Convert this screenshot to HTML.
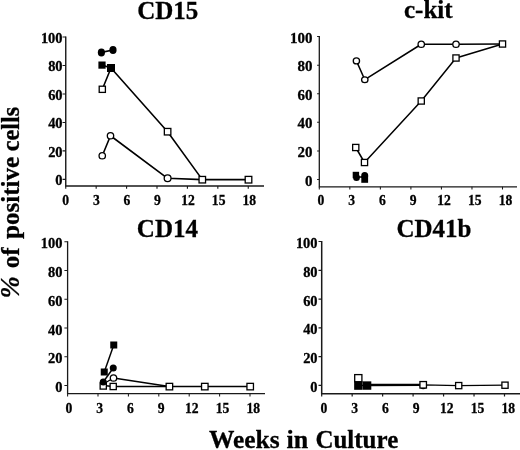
<!DOCTYPE html>
<html><head><meta charset="utf-8"><title>chart</title>
<style>
html,body{margin:0;padding:0;background:#fff;}
body{width:520px;height:450px;overflow:hidden;}
svg{display:block;will-change:transform;opacity:0.999;}
text{font-family:"Liberation Serif",serif;font-weight:bold;fill:#000;stroke:#000;stroke-width:0.3px;}
.t{font-size:25px;}
.k{font-size:15px;stroke-width:0.25px;}
</style></head><body>
<svg width="520" height="450" viewBox="0 0 520 450">
<rect width="520" height="450" fill="#fff"/>
<text class="t" text-anchor="middle" x="167.7" y="18.5">CD15</text>
<text class="t" text-anchor="middle" x="428.3" y="18">c-kit</text>
<text class="t" text-anchor="middle" x="167.4" y="236.7">CD14</text>
<text class="t" text-anchor="middle" x="434" y="236.7">CD41b</text>
<text class="t" transform="translate(209.0 448.3) scale(1.017 0.975)">Weeks</text>
<text class="t" transform="translate(286.5 448.3) scale(1.04 0.975)">in</text>
<text class="t" transform="translate(315.4 448.3) scale(1.0 0.975)">Culture</text>
<g class="t" style="stroke-width:0.1px;font-size:24.8px">
<text transform="translate(18.6 268.3) rotate(-90) scale(1.012 1)">of</text>
<text transform="translate(18.6 239.0) rotate(-90) scale(1.012 1)">positive</text>
<text transform="translate(18.6 151.2) rotate(-90) scale(0.98 1)">cells</text>
</g>
<text class="t" style="font-style:italic;stroke-width:0.2px;font-size:26.8px" transform="translate(18.8 298.4) rotate(-90)">%</text>
<!-- panel TL -->
<g stroke="#1a1a1a" stroke-width="1.4" fill="none">
<path d="M65.75 36.5V186.0H264"/>
<path d="M62.55 179.40H65.75M62.55 150.92H65.75M62.55 122.44H65.75M62.55 93.96H65.75M62.55 65.48H65.75M62.55 37.00H65.75M65.75 186.0V188.80M96.17 186.0V188.80M126.58 186.0V188.80M157.00 186.0V188.80M187.42 186.0V188.80M217.83 186.0V188.80M248.25 186.0V188.80" stroke-width="1.12"/>
</g>
<g class="k" text-anchor="end" style="font-size:15px">
<text transform="translate(62.60 185.00) scale(0.965 0.95)">0</text>
<text transform="translate(62.60 156.52) scale(0.965 0.95)">20</text>
<text transform="translate(62.60 128.04) scale(0.965 0.95)">40</text>
<text transform="translate(62.60 99.56) scale(0.965 0.95)">60</text>
<text transform="translate(62.60 71.08) scale(0.965 0.95)">80</text>
<text transform="translate(62.60 42.60) scale(0.965 0.95)">100</text>
</g>
<g class="k" text-anchor="middle" style="font-size:15px">
<text transform="translate(65.75 204.50) scale(0.91 0.95)">0</text>
<text transform="translate(96.33 204.50) scale(0.91 0.95)">3</text>
<text transform="translate(126.92 204.50) scale(0.91 0.95)">6</text>
<text transform="translate(157.50 204.50) scale(0.91 0.95)">9</text>
<text transform="translate(188.08 204.50) scale(0.91 0.95)">12</text>
<text transform="translate(218.67 204.50) scale(0.91 0.95)">15</text>
<text transform="translate(249.25 204.50) scale(0.91 0.95)">18</text>
</g>
<path d="M102.3 89.3 L111 68 L167.6 131.7 L202.3 179.6 L248.5 179.6" fill="none" stroke="#000" stroke-width="1.6" stroke-linejoin="round"/>
<path d="M102.25 155.75 L110.5 135.75 L167.6 178.3 L202.3 179.6" fill="none" stroke="#000" stroke-width="1.6" stroke-linejoin="round"/>
<path d="M101.4 52.4 L113 50" fill="none" stroke="#000" stroke-width="1.6" stroke-linejoin="round"/>
<path d="M102 65.1 L111 68" fill="none" stroke="#000" stroke-width="1.6" stroke-linejoin="round"/>
<rect x="99.20" y="86.20" width="6.2" height="6.2" fill="#fff" stroke="#000" stroke-width="1.3"/>
<rect x="164.35" y="128.45" width="6.5" height="6.5" fill="#fff" stroke="#000" stroke-width="1.3"/>
<rect x="199.05" y="176.45" width="6.5" height="6.5" fill="#fff" stroke="#000" stroke-width="1.3"/>
<rect x="245.20" y="176.40" width="6.6" height="6.6" fill="#fff" stroke="#000" stroke-width="1.3"/>
<ellipse cx="102.25" cy="155.75" rx="3.2" ry="3.2" fill="#fff" stroke="#000" stroke-width="1.3"/>
<ellipse cx="110.5" cy="135.75" rx="3.2" ry="3.2" fill="#fff" stroke="#000" stroke-width="1.3"/>
<ellipse cx="167.6" cy="178.3" rx="3.4" ry="3.4" fill="#fff" stroke="#000" stroke-width="1.3"/>
<ellipse cx="101.4" cy="52.4" rx="3.6" ry="4.0" fill="#000"/>
<ellipse cx="113" cy="50" rx="3.6" ry="4.0" fill="#000"/>
<rect x="98.40" y="61.50" width="7.2" height="7.2" fill="#000"/>
<rect x="107.00" y="64.00" width="8" height="8" fill="#000"/>
<!-- panel TR -->
<g stroke="#1a1a1a" stroke-width="1.3" fill="none">
<path d="M319.3 36.1V186.8H517"/>
<path d="M317.10 179.50H319.3M317.10 150.92H319.3M317.10 122.34H319.3M317.10 93.76H319.3M317.10 65.18H319.3M317.10 36.60H319.3M319.30 186.8V189.60M349.83 186.8V189.60M380.37 186.8V189.60M410.90 186.8V189.60M441.43 186.8V189.60M471.97 186.8V189.60M502.50 186.8V189.60" stroke-width="1.04"/>
</g>
<g class="k" text-anchor="end" style="font-size:15px">
<text transform="translate(312.50 185.50) scale(0.997 0.96)">0</text>
<text transform="translate(312.50 156.92) scale(0.997 0.96)">20</text>
<text transform="translate(312.50 128.34) scale(0.997 0.96)">40</text>
<text transform="translate(312.50 99.76) scale(0.997 0.96)">60</text>
<text transform="translate(312.50 71.18) scale(0.997 0.96)">80</text>
<text transform="translate(312.50 42.60) scale(0.997 0.96)">100</text>
</g>
<g class="k" text-anchor="middle" style="font-size:15px">
<text transform="translate(321.00 204.70) scale(0.91 0.95)">0</text>
<text transform="translate(351.75 204.70) scale(0.91 0.95)">3</text>
<text transform="translate(382.50 204.70) scale(0.91 0.95)">6</text>
<text transform="translate(413.25 204.70) scale(0.91 0.95)">9</text>
<text transform="translate(444.00 204.70) scale(0.91 0.95)">12</text>
<text transform="translate(474.75 204.70) scale(0.91 0.95)">15</text>
<text transform="translate(505.50 204.70) scale(0.91 0.95)">18</text>
</g>
<path d="M356.4 60.9 L364.8 79.7 L421.25 44.25 L456 44.25 L502.5 44" fill="none" stroke="#000" stroke-width="1.5" stroke-linejoin="round"/>
<path d="M355.75 147.5 L364.5 162.5 L421.25 101 L456 58 L502.5 44" fill="none" stroke="#000" stroke-width="1.5" stroke-linejoin="round"/>
<ellipse cx="356.4" cy="60.9" rx="3.15" ry="3.0" fill="#fff" stroke="#000" stroke-width="1.3"/>
<ellipse cx="364.8" cy="79.7" rx="3.2" ry="2.9" fill="#fff" stroke="#000" stroke-width="1.3"/>
<ellipse cx="421.25" cy="44.25" rx="3.2" ry="3.2" fill="#fff" stroke="#000" stroke-width="1.3"/>
<ellipse cx="456" cy="44.25" rx="3.2" ry="3.2" fill="#fff" stroke="#000" stroke-width="1.3"/>
<rect x="352.65" y="144.40" width="6.2" height="6.2" fill="#fff" stroke="#000" stroke-width="1.3"/>
<rect x="361.40" y="159.40" width="6.2" height="6.2" fill="#fff" stroke="#000" stroke-width="1.3"/>
<rect x="418.15" y="97.90" width="6.2" height="6.2" fill="#fff" stroke="#000" stroke-width="1.3"/>
<rect x="452.90" y="54.90" width="6.2" height="6.2" fill="#fff" stroke="#000" stroke-width="1.3"/>
<rect x="499.40" y="40.90" width="6.2" height="6.2" fill="#fff" stroke="#000" stroke-width="1.3"/>
<path d="M356.5 177 L364.7 177" fill="none" stroke="#000" stroke-width="1.5" stroke-linejoin="round"/>
<rect x="352.70" y="171.80" width="6.4" height="6.4" fill="#000"/>
<ellipse cx="356.5" cy="177.5" rx="3.4" ry="3.5" fill="#000"/>
<ellipse cx="364.7" cy="175.7" rx="3.5" ry="3.6" fill="#000"/>
<rect x="361.30" y="176.00" width="6.8" height="6.8" fill="#000"/>
<!-- panel BL -->
<g stroke="#1a1a1a" stroke-width="1.3" fill="none">
<path d="M67.6 241.3V393.7H265"/>
<path d="M64.40 385.50H67.6M64.40 356.76H67.6M64.40 328.02H67.6M64.40 299.28H67.6M64.40 270.54H67.6M64.40 241.80H67.6M67.60 393.7V396.50M98.00 393.7V396.50M128.40 393.7V396.50M158.80 393.7V396.50M189.20 393.7V396.50M219.60 393.7V396.50M250.00 393.7V396.50" stroke-width="1.04"/>
</g>
<g class="k" text-anchor="end" style="font-size:15px">
<text transform="translate(62.50 392.00) scale(0.965 0.95)">0</text>
<text transform="translate(62.50 363.26) scale(0.965 0.95)">20</text>
<text transform="translate(62.50 334.52) scale(0.965 0.95)">40</text>
<text transform="translate(62.50 305.78) scale(0.965 0.95)">60</text>
<text transform="translate(62.50 277.04) scale(0.965 0.95)">80</text>
<text transform="translate(62.50 248.30) scale(0.965 0.95)">100</text>
</g>
<g class="k" text-anchor="middle" style="font-size:15px">
<text transform="translate(69.00 412.80) scale(0.91 0.95)">0</text>
<text transform="translate(99.72 412.80) scale(0.91 0.95)">3</text>
<text transform="translate(130.43 412.80) scale(0.91 0.95)">6</text>
<text transform="translate(161.15 412.80) scale(0.91 0.95)">9</text>
<text transform="translate(191.87 412.80) scale(0.91 0.95)">12</text>
<text transform="translate(222.58 412.80) scale(0.91 0.95)">15</text>
<text transform="translate(253.30 412.80) scale(0.91 0.95)">18</text>
</g>
<path d="M103.25 385.5 L113.25 386.5 L169.25 386.5 L204.5 386.5 L250 386.5" fill="none" stroke="#000" stroke-width="1.3" stroke-linejoin="round"/>
<path d="M103.25 384 L113.5 378 L169.25 386.5" fill="none" stroke="#000" stroke-width="1.3" stroke-linejoin="round"/>
<path d="M104.25 372 L113.75 345" fill="none" stroke="#000" stroke-width="1.45" stroke-linejoin="round"/>
<path d="M103.25 382 L113.25 368" fill="none" stroke="#000" stroke-width="1.45" stroke-linejoin="round"/>
<rect x="100.15" y="382.90" width="6.2" height="6.2" fill="#fff" stroke="#000" stroke-width="1.3"/>
<rect x="110.10" y="383.40" width="6.2" height="6.2" fill="#fff" stroke="#000" stroke-width="1.3"/>
<rect x="166.15" y="383.35" width="6.5" height="6.5" fill="#fff" stroke="#000" stroke-width="1.3"/>
<rect x="201.55" y="383.35" width="6.5" height="6.5" fill="#fff" stroke="#000" stroke-width="1.3"/>
<rect x="246.95" y="383.35" width="6.5" height="6.5" fill="#fff" stroke="#000" stroke-width="1.3"/>
<ellipse cx="113.5" cy="378" rx="3.2" ry="3.2" fill="#fff" stroke="#000" stroke-width="1.3"/>
<ellipse cx="103.25" cy="382" rx="3.5" ry="3.5" fill="#000"/>
<ellipse cx="113.25" cy="368" rx="3.5" ry="3.5" fill="#000"/>
<rect x="100.75" y="368.50" width="7" height="7" fill="#000"/>
<rect x="110.25" y="341.50" width="7" height="7" fill="#000"/>
<!-- panel BR -->
<g stroke="#1a1a1a" stroke-width="1.5" fill="none">
<path d="M321.7 241.0V393.8H520"/>
<path d="M318.50 385.40H321.7M318.50 356.62H321.7M318.50 327.84H321.7M318.50 299.06H321.7M318.50 270.28H321.7M318.50 241.50H321.7M321.70 393.8V396.60M352.17 393.8V396.60M382.63 393.8V396.60M413.10 393.8V396.60M443.57 393.8V396.60M474.03 393.8V396.60M504.50 393.8V396.60" stroke-width="1.20"/>
</g>
<g class="k" text-anchor="end" style="font-size:15px">
<text transform="translate(317.60 391.90) scale(0.965 0.95)">0</text>
<text transform="translate(317.60 363.12) scale(0.965 0.95)">20</text>
<text transform="translate(317.60 334.34) scale(0.965 0.95)">40</text>
<text transform="translate(317.60 305.56) scale(0.965 0.95)">60</text>
<text transform="translate(317.60 276.78) scale(0.965 0.95)">80</text>
<text transform="translate(317.60 248.00) scale(0.965 0.95)">100</text>
</g>
<g class="k" text-anchor="middle" style="font-size:15px">
<text transform="translate(323.90 412.80) scale(0.91 0.95)">0</text>
<text transform="translate(354.62 412.80) scale(0.91 0.95)">3</text>
<text transform="translate(385.35 412.80) scale(0.91 0.95)">6</text>
<text transform="translate(416.07 412.80) scale(0.91 0.95)">9</text>
<text transform="translate(446.80 412.80) scale(0.91 0.95)">12</text>
<text transform="translate(477.52 412.80) scale(0.91 0.95)">15</text>
<text transform="translate(508.25 412.80) scale(0.91 0.95)">18</text>
</g>
<path d="M358.3 385.5 L367.3 385.3 L423.2 384.9 L458.7 385.6 L505 385.2" fill="none" stroke="#000" stroke-width="1.3" stroke-linejoin="round"/>
<path d="M367.3 385.0 L423 384.9" fill="none" stroke="#000" stroke-width="2.4" stroke-linejoin="round"/>
<rect x="354.70" y="374.60" width="7.2" height="7.2" fill="#fff" stroke="#000" stroke-width="1.3"/>
<ellipse cx="423.2" cy="385.6" rx="3.0" ry="3.0" fill="#fff" stroke="#000" stroke-width="1.3"/>
<rect x="419.95" y="381.55" width="6.5" height="6.5" fill="#fff" stroke="#000" stroke-width="1.3"/>
<rect x="455.60" y="382.50" width="6.2" height="6.2" fill="#fff" stroke="#000" stroke-width="1.3"/>
<rect x="501.90" y="382.10" width="6.2" height="6.2" fill="#fff" stroke="#000" stroke-width="1.3"/>
<rect x="354.15" y="381.30" width="8.5" height="8.5" fill="#000"/>
<rect x="362.90" y="381.35" width="8.4" height="8.4" fill="#000"/>
</svg>
</body></html>
